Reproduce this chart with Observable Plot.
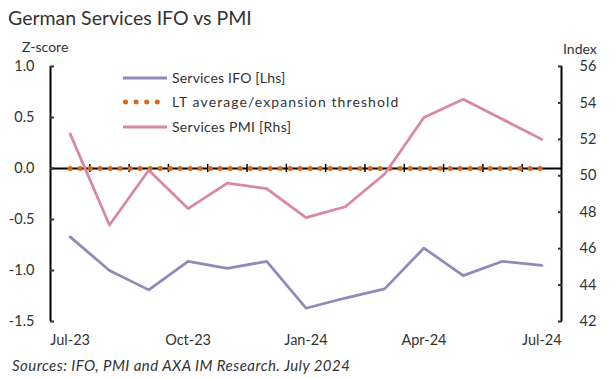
<!DOCTYPE html>
<html><head><meta charset="utf-8">
<script src="https://cdn.jsdelivr.net/npm/d3@7"></script>
<script src="https://cdn.jsdelivr.net/npm/@observablehq/plot@0.6"></script>
<style>
body{margin:0;background:#fff;font-family:Lato,sans-serif;}
#wrap{position:relative;width:615px;height:379px;overflow:hidden;background:#fff}
#chart{position:absolute;left:0;top:0}
.t{position:absolute;white-space:nowrap;line-height:1;color:#333}
.leg{position:absolute;left:123px;display:flex;align-items:center;font-size:14px;color:#333;line-height:1;white-space:nowrap}
.leg svg{margin-right:5px}
</style></head><body>
<div id="wrap">
  <div id="chart"></div>
  <div class="t" style="left:8px;top:8px;font-size:19.5px">German Services IFO vs PMI</div>
  <div class="t" style="left:22px;top:40px;font-size:14px">Z-score</div>
  <div class="t" style="left:563px;top:42px;font-size:14px">Index</div>
  <div class="leg" style="top:71px"><svg width="44" height="6"><line x1="0" x2="44" y1="3" y2="3" stroke="#8D8BBA" stroke-width="3"/></svg><span style="letter-spacing:0.2px">Services IFO [Lhs]</span></div>
  <div class="leg" style="top:95px"><svg width="44" height="6"><line x1="2.5" x2="44" y1="3" y2="3" stroke="#D3691F" stroke-width="5" stroke-linecap="round" stroke-dasharray="0 10.6"/></svg><span style="letter-spacing:1.1px">LT average/expansion threshold</span></div>
  <div class="leg" style="top:120px"><svg width="44" height="6"><line x1="0" x2="44" y1="3" y2="3" stroke="#D986A8" stroke-width="3"/></svg><span style="letter-spacing:0.3px">Services PMI [Rhs]</span></div>
  <div class="t" style="left:12px;top:358px;font-size:15px;font-style:italic;letter-spacing:0.45px">Sources: IFO, PMI and AXA IM Research. July 2024</div>
</div>
<script>
const months = ["Jul-23","Aug-23","Sep-23","Oct-23","Nov-23","Dec-23","Jan-24","Feb-24","Mar-24","Apr-24","May-24","Jun-24","Jul-24"];
const ifo = [-0.67, -1.00, -1.19, -0.91, -0.98, -0.91, -1.37, -1.27, -1.18, -0.78, -1.05, -0.91, -0.95];
const pmi = [52.3, 47.3, 50.3, 48.2, 49.6, 49.3, 47.7, 48.3, 50.1, 53.2, 54.2, 53.1, 52.0];
const ltAverage = [0, 0, 0, 0, 0, 0, 0, 0, 0, 0, 0, 0, 0];
const leftTicks = [-1.5, -1.0, -0.5, 0.0, 0.5, 1.0];
const rightTicks = [42, 44, 46, 48, 50, 52, 54, 56];
const xTickMonths = ["Jul-23","Oct-23","Jan-24","Apr-24","Jul-24"];
const leftDomain = [-1.5, 1.0];
const rightDomain = [42, 56];

const toLeft = p => leftDomain[0] + (p - rightDomain[0]) * (leftDomain[1] - leftDomain[0]) / (rightDomain[1] - rightDomain[0]);
const toRight = z => rightDomain[0] + (z - leftDomain[0]) * (rightDomain[1] - rightDomain[0]) / (leftDomain[1] - leftDomain[0]);

const rows = months.map((m, i) => ({i, m, ifo: ifo[i], pmiZ: toLeft(pmi[i]), lt: ltAverage[i]}));
const boundaries = months.slice(1).map((m, i) => i + 0.5);
const xTicks = xTickMonths.map(m => months.indexOf(m));

const chart = Plot.plot({
  width: 615, height: 379,
  marginTop: 66, marginBottom: 58, marginLeft: 50, marginRight: 54,
  style: {fontFamily: "Lato, sans-serif", fontSize: "14px", color: "#333", background: "transparent", overflow: "visible"},
  x: {domain: [-0.5, months.length - 0.5], axis: null},
  y: {domain: leftDomain, axis: null},
  marks: [
    Plot.ruleY([0], {stroke: "#000", strokeWidth: 2}),
    Plot.ruleX(boundaries, {y1: -0.04, y2: 0.04, stroke: "#000", strokeWidth: 1.5}),
    Plot.ruleX([-0.5, months.length - 0.5], {y1: leftDomain[0], y2: leftDomain[1], stroke: "#000", strokeWidth: 2}),
    Plot.axisY(leftTicks, {anchor: "left", tickSize: -4, tickPadding: 20, strokeWidth: 2, tickFormat: d => d.toFixed(1), fontSize: 14.5, label: null}),
    Plot.axisY(rightTicks.map(toLeft), {anchor: "right", tickSize: -4, tickPadding: 22, strokeWidth: 2, tickFormat: d => String(Math.round(toRight(d))), fontSize: 14.5, label: null}),
    Plot.axisX(xTicks, {anchor: "bottom", tickSize: 0, tickPadding: 13, tickFormat: i => months[i], fontSize: 14.5, letterSpacing: "0.7px", label: null}),
    Plot.lineY(rows, {x: "i", y: "lt", stroke: "#D3691F", strokeWidth: 5, strokeLinecap: "round", strokeDasharray: "0 10"}),
    Plot.lineY(rows, {x: "i", y: "ifo", stroke: "#8D8BBA", strokeWidth: 2.75}),
    Plot.lineY(rows, {x: "i", y: "pmiZ", stroke: "#D986A8", strokeWidth: 2.75})
  ]
});
document.getElementById("chart").appendChild(chart);
</script>
</body></html>
